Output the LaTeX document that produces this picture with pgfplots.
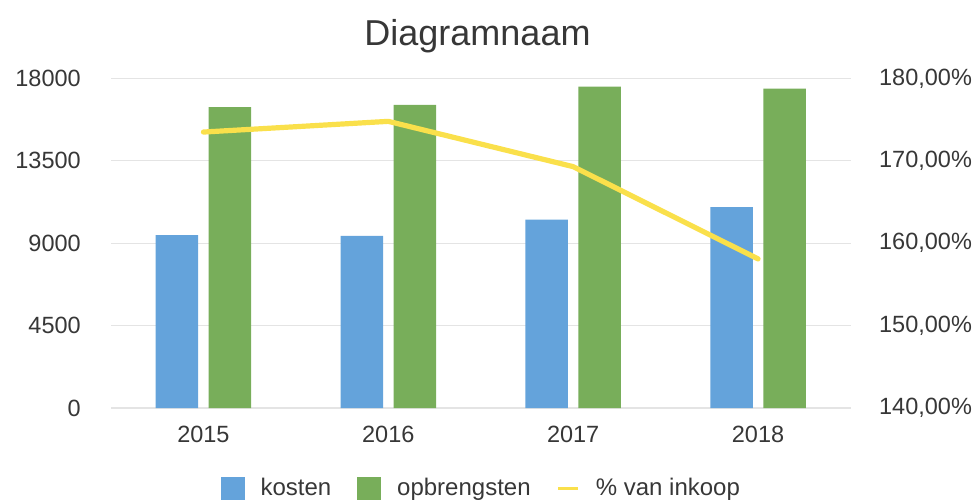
\documentclass[border=0pt]{standalone}
\usepackage{fontspec}
\setmainfont{Liberation Sans}
\usepackage{pgfplots}
\pgfplotsset{compat=1.18}
\definecolor{kblue}{RGB}{100,163,219}
\definecolor{kgreen}{RGB}{120,174,90}
\definecolor{kyellow}{RGB}{250,224,75}
\definecolor{txt}{RGB}{55,55,55}
\definecolor{gridc}{RGB}{228,228,228}
\newcommand{\tf}{\fontsize{11.75}{14}\selectfont}
\newcommand{\lf}{\fontsize{12}{14}\selectfont}
\begin{document}
\begin{tikzpicture}
\useasboundingbox (0,0) rectangle (489.5pt,250pt);
\node[anchor=base, text=txt, font=\fontsize{18}{21}\selectfont] at (238.75pt,227.5pt) {Diagramnaam};
\begin{axis}[
  at={(55.5pt,46pt)}, anchor=south west,
  scale only axis, width=369.75pt, height=164.75pt,
  xmin=-0.5, xmax=3.5, ymin=0, ymax=18000,
  xtick={0,1,2,3}, xticklabels={2015,2016,2017,2018},
  ytick={0,4500,9000,13500,18000},
  scaled y ticks=false,
  /pgf/number format/assume math mode=true,
  /pgf/number format/1000 sep={},
  axis line style={draw=none},
  major tick length=0pt,
  ymajorgrids, grid style={gridc, line width=0.6pt},
  tick label style={font=\tf, text=txt},
  xticklabel style={yshift=-5.65pt},
  yticklabel style={xshift=-11.6pt},
  ybar=5.2pt, bar width=21.3pt,
  legend columns=3,
  legend style={at={(0.502,-0.245)}, anchor=center, draw=none, fill=none,
    font=\lf, text=txt,
    /tikz/every odd column/.append style={column sep=6pt},
    /tikz/every even column/.append style={column sep=11pt}},
]
\addplot[fill=kblue, draw=none,
  legend image code/.code={\fill[kblue] (0pt,-5.75pt) rectangle (12pt,5.75pt);}]
  coordinates {(0,9440) (1,9400) (2,10290) (3,10980)};
\addlegendentry{kosten}
\addplot[fill=kgreen, draw=none,
  legend image code/.code={\fill[kgreen] (0pt,-5.75pt) rectangle (12pt,5.75pt);}]
  coordinates {(0,16430) (1,16560) (2,17560) (3,17450)};
\addlegendentry{opbrengsten}
\addlegendimage{kyellow, line width=1.6pt,
  legend image code/.code={\draw[kyellow, line width=1.6pt] (0pt,0pt) -- (10pt,0pt);}}
\addlegendentry{\% van inkoop}
\end{axis}
\begin{axis}[
  at={(55.5pt,46pt)}, anchor=south west,
  scale only axis, width=369.75pt, height=164.75pt,
  xmin=-0.5, xmax=3.5, ymin=140, ymax=180,
  xtick=\empty,
  ytick={140,150,160,170,180},
  yticklabel pos=right,
  /pgf/number format/assume math mode=true,
  yticklabel={\pgfmathprintnumber[fixed,fixed zerofill,precision=2,use comma]{\tick}\%},
  axis line style={draw=none},
  major tick length=0pt,
  tick label style={font=\tf, text=txt},
  yticklabel style={xshift=10.8pt},
]
\addplot[kyellow, line width=2.6pt, line cap=round, line join=round]
  coordinates {(0,173.5) (1,174.8) (2,169.3) (3,158.1)};
\end{axis}
\end{tikzpicture}
\end{document}
